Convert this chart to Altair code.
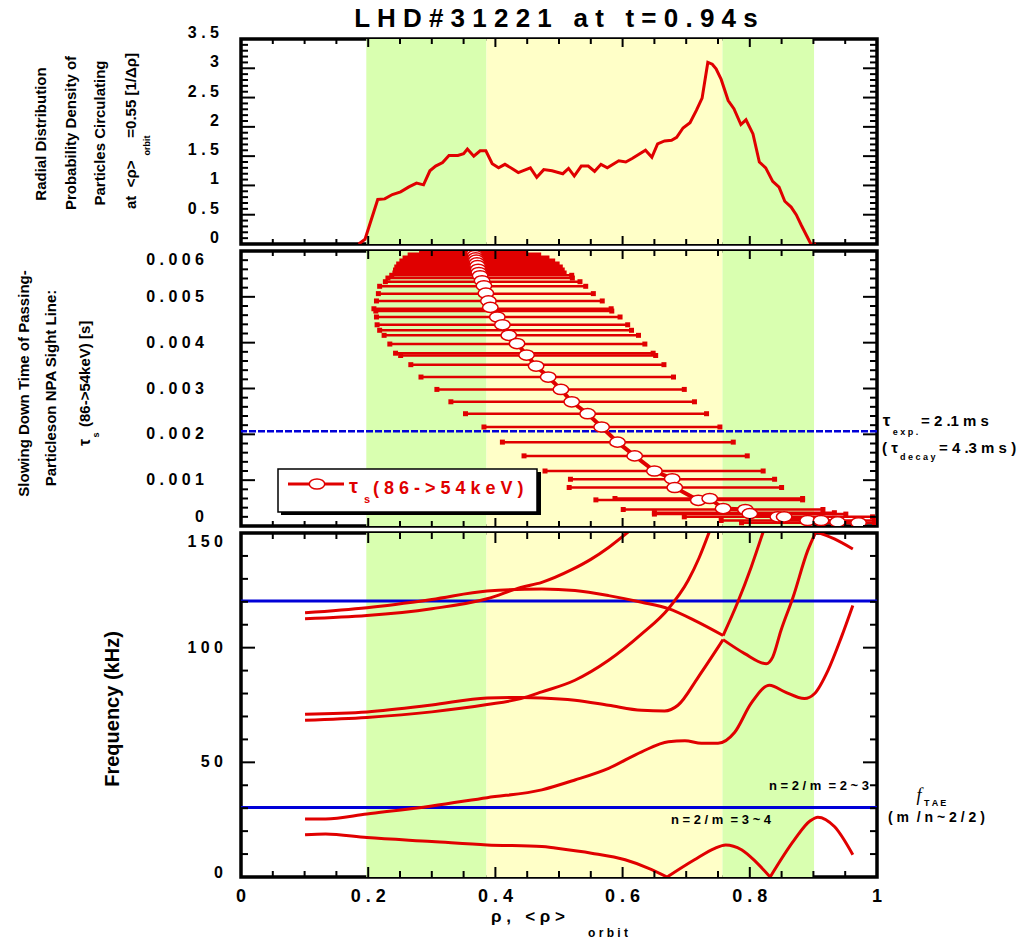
import altair as alt
import pandas as pd

FONT = "Liberation Sans"
RED = "#E00000"
BLUE = "#0000D8"
GREEN = "#D9FFB0"
YELLOW = "#FFFFC8"
NB = "\u00a0"

W = 636
H_TOP, H_MID, H_BOT = 205, 275, 344

# background bands (rho)
band_lo = [0.197, 0.386, 0.757]
band_hi = [0.386, 0.757, 0.901]
band_color = [GREEN, YELLOW, GREEN]

# ---- top panel: radial probability density ----
top_rho = [0.185, 0.195, 0.215, 0.226, 0.238, 0.251, 0.264, 0.276, 0.287, 0.297,
           0.306, 0.317, 0.327, 0.341, 0.350, 0.356, 0.366, 0.376, 0.385, 0.395,
           0.405, 0.415, 0.426, 0.436, 0.455, 0.465, 0.476, 0.489, 0.506, 0.515,
           0.524, 0.535, 0.546, 0.556, 0.566, 0.576, 0.594, 0.605, 0.615, 0.636,
           0.646, 0.655, 0.666, 0.677, 0.685, 0.695, 0.706, 0.716, 0.725, 0.734,
           0.741, 0.747, 0.755, 0.766, 0.775, 0.786, 0.794, 0.805, 0.815, 0.825,
           0.836, 0.846, 0.855, 0.865, 0.873, 0.881, 0.889, 0.896, 0.904]
top_val = [0, 0.08, 0.76, 0.77, 0.845, 0.89, 0.975, 1.04, 1.01, 1.25,
           1.33, 1.39, 1.51, 1.51, 1.54, 1.62, 1.50, 1.59, 1.59, 1.37,
           1.30, 1.36, 1.29, 1.22, 1.30, 1.14, 1.27, 1.25, 1.20, 1.29,
           1.16, 1.33, 1.33, 1.24, 1.36, 1.30, 1.42, 1.40, 1.46, 1.60,
           1.48, 1.71, 1.76, 1.77, 1.82, 1.98, 2.07, 2.28, 2.49, 3.10,
           3.07, 2.99, 2.81, 2.45, 2.31, 2.04, 2.12, 1.88, 1.40, 1.30,
           1.07, 0.97, 0.73, 0.63, 0.50, 0.32, 0.15, 0, 0]

# ---- middle panel: slowing down time ----
bar_tau = [0.005983, 0.005917, 0.005852, 0.005786, 0.005721, 0.005655, 0.005590, 0.005524,
           0.00547, 0.00541, 0.00533, 0.00523, 0.00507, 0.00491, 0.00474, 0.00469, 0.00456,
           0.00439, 0.00427, 0.00416, 0.00397, 0.00377, 0.00372, 0.00352, 0.00325, 0.00298,
           0.00271, 0.00245, 0.00216, 0.00183, 0.00153, 0.00120, 0.00102, 0.00084, 0.00060,
           0.00057, 0.00036, 0.00029, 0.00026, 0.00020, 0.00012, 0.00007]
bar_lo = [0.28, 0.262, 0.254, 0.249, 0.244, 0.241, 0.239, 0.238,
          0.237, 0.231, 0.227, 0.218, 0.216, 0.213, 0.209, 0.212, 0.213,
          0.214, 0.218, 0.225, 0.234, 0.243, 0.251, 0.267, 0.283, 0.308,
          0.330, 0.353, 0.382, 0.411, 0.445, 0.478, 0.518, 0.516, 0.588,
          0.558, 0.601, 0.650, 0.650, 0.697, 0.755, 0.787]
bar_hi = [0.45, 0.472, 0.485, 0.494, 0.501, 0.506, 0.509, 0.512,
          0.520, 0.521, 0.533, 0.542, 0.554, 0.568, 0.582, 0.583, 0.596,
          0.608, 0.614, 0.625, 0.635, 0.648, 0.652, 0.665, 0.680, 0.697,
          0.713, 0.732, 0.753, 0.774, 0.796, 0.821, 0.839, 0.850, 0.883,
          0.883, 0.915, 0.933, 0.951, 0.993, 0.996, 0.996]

circ_rho = [0.366, 0.367, 0.368, 0.369, 0.370, 0.371, 0.372, 0.373, 0.374, 0.376,
            0.379, 0.382, 0.385, 0.389, 0.392, 0.403, 0.411, 0.421, 0.434, 0.449,
            0.464, 0.483, 0.503, 0.520, 0.545, 0.567, 0.592, 0.619, 0.650, 0.678,
            0.682, 0.719, 0.737, 0.758, 0.793, 0.800, 0.844, 0.854, 0.891, 0.912,
            0.938, 0.971]
circ_tau = [0.00600, 0.00595, 0.00590, 0.00585, 0.00580, 0.00574, 0.00568, 0.00560, 0.00553, 0.00546,
            0.00535, 0.00524, 0.00508, 0.00491, 0.00477, 0.00456, 0.00439, 0.00416, 0.00398, 0.00373,
            0.00349, 0.00325, 0.00298, 0.00271, 0.00245, 0.00216, 0.00183, 0.00153, 0.00120, 0.00103,
            0.00084, 0.00056, 0.00060, 0.00038, 0.00036, 0.00027, 0.00020, 0.00020, 0.00012, 0.00012,
            0.00009, 0.00007]

tau_exp = 0.00207

# ---- bottom panel: frequency continua ----
curve_A_rho = [0.1007, 0.133, 0.198, 0.30, 0.387, 0.473, 0.494, 0.551, 0.604, 0.640, 0.670,
               0.713, 0.745, 0.762, 0.787, 0.810, 0.832, 0.87, 0.895, 0.907, 0.933, 0.962]
curve_A_f = [18.4, 18.8, 17.2, 15.5, 14.0, 13.3, 12.6, 10.4, 7.5, 3.9, 0.0,
             7.5, 12.5, 14.0, 11.9, 6.5, 0.0, 16.2, 24.5, 26.1, 22.0, 9.7]
curve_B_rho = [0.1007, 0.133, 0.198, 0.30, 0.387, 0.473, 0.525, 0.578, 0.63, 0.672, 0.698,
               0.724, 0.75, 0.776, 0.802, 0.831, 0.855, 0.886, 0.902, 0.923, 0.944, 0.962]
curve_B_f = [25.3, 25.3, 27.5, 31.0, 34.6, 38.0, 42.3, 47.4, 54.6, 59.0, 59.4,
             58.3, 58.3, 63.0, 75.7, 83.6, 80.7, 77.8, 80.0, 90.1, 104.6, 118.4]
curve_C_rho = [0.1007, 0.198, 0.30, 0.387, 0.44, 0.473, 0.525, 0.578, 0.63, 0.672, 0.703, 0.72, 0.737]
curve_C_f = [68.4, 69.6, 72.0, 75.2, 77.8, 80.7, 85.8, 94.5, 106.0, 117.0, 129.3, 139.0, 151.0]
curve_F_rho = [0.1007, 0.198, 0.30, 0.387, 0.44, 0.473, 0.525, 0.578, 0.63, 0.666, 0.687,
               0.719, 0.758, 0.792, 0.826, 0.836, 0.849, 0.868, 0.891, 0.904, 0.933, 0.962]
curve_F_f = [71.0, 72.0, 75.0, 78.1, 78.3, 78.1, 77.1, 74.9, 72.7, 72.4, 74.9,
             87.2, 103.5, 97.4, 93.0, 95.9, 107.5, 122.0, 142.3, 150.5, 147.4, 143.0]
curve_D_rho = [0.1007, 0.198, 0.30, 0.387, 0.473, 0.525, 0.578, 0.63, 0.672, 0.713, 0.758,
               0.781, 0.802, 0.821]
curve_D_f = [115.2, 117.4, 121.0, 124.7, 125.6, 124.9, 122.7, 119.8, 117.0, 111.9, 105.3,
             119.8, 135.0, 150.5]
curve_E_rho = [0.1007, 0.198, 0.30, 0.387, 0.44, 0.473, 0.52, 0.55, 0.578, 0.609]
curve_E_f = [112.6, 114.0, 117.0, 121.3, 126.3, 128.5, 134.0, 138.5, 143.7, 150.5]
cusps = {"A": [0.670, 0.832], "B": [], "C": [], "F": [0.758, 0.904], "D": [0.758], "E": []}

tae_levels = [120.3, 30.3]

# ---- ticks / labels ----
x_major = [0, 0.2, 0.4, 0.6, 0.8, 1]
x_labels = ["0", "0 . 2", "0 . 4", "0 . 6", "0 . 8", "1"]
x_minor = [0.05, 0.1, 0.15, 0.25, 0.3, 0.35, 0.45, 0.5, 0.55, 0.65, 0.7, 0.75, 0.85, 0.9, 0.95]
top_major = [0, 0.5, 1, 1.5, 2, 2.5, 3, 3.5]
top_labels = ["0", "0 . 5", "1", "1 . 5", "2", "2 . 5", "3", "3 . 5"]
top_minor = [round(i * 0.1, 1) for i in range(36) if i % 5]
mid_major = [0, 0.001, 0.002, 0.003, 0.004, 0.005, 0.006]
mid_labels = ["0", "0 . 0 0 1", "0 . 0 0 2", "0 . 0 0 3", "0 . 0 0 4", "0 . 0 0 5", "0 . 0 0 6"]
mid_minor = [round(i * 0.0002, 4) for i in range(31) if i % 5]
bot_major = [0, 50, 100, 150]
bot_labels = ["0", "5 0", "1 0 0", "1 5 0"]
bot_minor = [10, 20, 30, 40, 60, 70, 80, 90, 110, 120, 130, 140]

xs = alt.Scale(domain=[0, 1], nice=False, zero=False)
ys_top = alt.Scale(domain=[0, 3.5], nice=False, zero=False)
ys_mid = alt.Scale(domain=[0, 0.006], nice=False, zero=False)
ys_bot = alt.Scale(domain=[0, 150], nice=False, zero=False)

ELLIPSE = "M-1,0A1,0.66,0,1,1,1,0A1,0.66,0,1,1,-1,0Z"


def X(field):
    return alt.X(field, type="quantitative", scale=xs, axis=None)


def Y(field, scale):
    return alt.Y(field, type="quantitative", scale=scale, axis=None)


def band_layer():
    df = pd.DataFrame({"x": band_lo, "x2": band_hi, "c": band_color})
    return alt.Chart(df).mark_rect().encode(
        x=X("x"), x2=alt.X2("x2"), color=alt.Color("c:N", scale=None))


def tick_layers(ymaj, ymin, yscale, H, xl=(8, 5), yl=(14, 7)):
    layers = []
    for vals, L in ((x_major, xl[0]), (x_minor, xl[1])):
        base = alt.Chart(pd.DataFrame({"x": vals})).mark_rule(color="black", strokeWidth=2)
        layers.append(base.encode(x=X("x"), y=alt.value(H), y2=alt.value(H - L)))
        layers.append(base.encode(x=X("x"), y=alt.value(0), y2=alt.value(L)))
    for vals, L in ((ymaj, yl[0]), (ymin, yl[1])):
        base = alt.Chart(pd.DataFrame({"y": vals})).mark_rule(color="black", strokeWidth=2)
        layers.append(base.encode(y=Y("y", yscale), x=alt.value(0), x2=alt.value(L)))
        layers.append(base.encode(y=Y("y", yscale), x=alt.value(W), x2=alt.value(W - L)))
    return layers


def ylabel_layers(values, labels, yscale, right, dy=0, top_flush=False, bottom_dy=None,
                  bottom_flush=False, size=16):
    df = pd.DataFrame({"y": values, "t": labels})
    style = dict(align="right", fontSize=size, font=FONT, fontWeight="bold", color="black")
    lo, hi = min(values), max(values)
    enc = dict(y=Y("y", yscale), x=alt.value(-right), text="t:N")
    layers = [alt.Chart(df).transform_filter(f"datum.y > {lo} && datum.y < {hi}").mark_text(
        baseline="middle", dy=dy, **style).encode(**enc)]
    if top_flush:
        layers.append(alt.Chart(df).transform_filter(f"datum.y >= {hi}").mark_text(
            baseline="top", dy=1, **style).encode(**enc))
    else:
        layers.append(alt.Chart(df).transform_filter(f"datum.y >= {hi}").mark_text(
            baseline="middle", dy=dy, **style).encode(**enc))
    if bottom_flush:
        layers.append(alt.Chart(df).transform_filter(f"datum.y <= {lo}").mark_text(
            baseline="bottom", dy=-1, **style).encode(**enc))
    else:
        layers.append(alt.Chart(df).transform_filter(f"datum.y <= {lo}").mark_text(
            baseline="middle", dy=dy if bottom_dy is None else bottom_dy, **style).encode(**enc))
    return layers


def txt(text, x, y, size=13, angle=0, align="center", color="black", weight="bold",
        font=FONT, style="normal", baseline="middle"):
    return alt.Chart(pd.DataFrame({"t": [text]})).mark_text(
        align=align, baseline=baseline, angle=angle, fontSize=size, font=font,
        fontWeight=weight, fontStyle=style, color=color
    ).encode(text="t:N", x=alt.value(x), y=alt.value(y))


# ================= TOP PANEL =================
top_df = pd.DataFrame({"x": top_rho, "v": top_val})
top_line = alt.Chart(top_df).mark_line(color=RED, strokeWidth=3, clip=True).encode(
    x=X("x"), y=Y("v", ys_top))

title_text = f"L H D # 3 1 2 2 1 {NB}{NB}a t {NB}{NB}t = 0 . 9 4 s"
top_texts = [
    txt(title_text, 315, -20, size=26),
    txt("Radial Distribution", -200, 95, size=15, angle=270),
    txt("Probability Density of", -170, 94, size=15, angle=270),
    txt("Particles Circulating", -140.7, 94, size=15, angle=270),
    txt(f"at{NB}{NB}<ρ>", -110, 170, size=15, angle=270, align="left"),
    txt("=0.55 [1/Δρ]", -110, 14, size=15, angle=270, align="right"),
    txt("orbit", -94, 106.5, size=9, angle=270),
]

top = alt.layer(band_layer(), top_line, *top_texts,
                *ylabel_layers(top_major, top_labels, ys_top, 22, dy=-6),
                *tick_layers(top_major, top_minor, ys_top, H_TOP)).properties(
    width=W, height=H_TOP)

# ================= MIDDLE PANEL =================
bar_df = pd.DataFrame({"lo": bar_lo, "hi": bar_hi, "tau": bar_tau})
circ_df = pd.DataFrame({"x": circ_rho, "tau": circ_tau, "i": list(range(len(circ_rho)))})

dome = alt.Chart(bar_df).transform_filter("datum.tau > 0.0055").mark_rule(
    color=RED, strokeWidth=4.5, clip=True).encode(
    x=X("lo"), x2=alt.X2("hi"), y=Y("tau", ys_mid))
bars = alt.Chart(bar_df).transform_filter("datum.tau <= 0.0055").mark_rule(
    color=RED, strokeWidth=2.5, clip=True).encode(
    x=X("lo"), x2=alt.X2("hi"), y=Y("tau", ys_mid))
caps_lo = alt.Chart(bar_df).transform_filter("datum.tau <= 0.0055").mark_point(
    shape="square", filled=True, size=25, color=RED, opacity=1, clip=True).encode(
    x=X("lo"), y=Y("tau", ys_mid))
caps_hi = alt.Chart(bar_df).transform_filter("datum.tau <= 0.0055").mark_point(
    shape="square", filled=True, size=25, color=RED, opacity=1, clip=True).encode(
    x=X("hi"), y=Y("tau", ys_mid))
exp_line = alt.Chart(pd.DataFrame({"tau": [tau_exp]})).mark_rule(
    color=BLUE, strokeWidth=2.5, strokeDash=[7, 2]).encode(y=Y("tau", ys_mid))
conn = alt.Chart(circ_df).mark_line(color=RED, strokeWidth=4, clip=True).encode(
    x=X("x"), y=Y("tau", ys_mid), order="i:Q")
circs = alt.Chart(circ_df).mark_point(shape=ELLIPSE, size=240, filled=True, fill="white",
                                      stroke=RED, strokeWidth=1.5, opacity=1, clip=True).encode(
    x=X("x"), y=Y("tau", ys_mid))


def vrect(x1, x2, y1, y2, fill, stroke=None):
    kw = {"fill": fill}
    if stroke:
        kw.update(stroke=stroke, strokeWidth=1.5)
    return alt.Chart(pd.DataFrame({"a": [0]})).mark_rect(**kw).encode(
        x=alt.value(x1), x2=alt.value(x2), y=alt.value(y1), y2=alt.value(y2))


legend = [
    vrect(40, 300, 221, 264, "black"),
    vrect(37, 296, 218, 261, "white", "black"),
    alt.Chart(pd.DataFrame({"a": [0]})).mark_rule(color=RED, strokeWidth=3).encode(
        x=alt.value(47), x2=alt.value(103), y=alt.value(233)),
    alt.Chart(pd.DataFrame({"a": [0]})).mark_point(shape=ELLIPSE, size=240, filled=True,
                                                   fill="white", stroke=RED, strokeWidth=1.5,
                                                   opacity=1).encode(
        x=alt.value(76), y=alt.value(233)),
    txt("τ", 108, 236, size=20, align="left", color=RED),
    txt("s", 123, 249, size=11, align="left", color=RED),
    txt("( 8 6 - > 5 4 k e V )", 132, 238, size=18, align="left", color=RED),
]

mid_texts = [
    txt("Slowing Down Time of Passing-", -216.7, 132.5, size=15, angle=270),
    txt("Particleson NPA Sight Line:", -190, 137, size=15, angle=270),
    txt("τ", -156, 195, size=16, angle=270, align="left"),
    txt("(86->54keV) [s]", -156, 176, size=15, angle=270, align="left"),
    txt("s", -145, 184, size=9, angle=270),
    txt("τ", 641.7, 170, size=17, align="left"),
    txt("e x p .", 651.7, 181, size=9, align="left"),
    txt("= 2 .1 m s", 680, 170, size=15, align="left"),
    txt("( τ", 641, 197, size=15, align="left"),
    txt("d e c a y", 659, 206, size=9, align="left"),
    txt("= 4 .3 m s )", 698, 197, size=15, align="left"),
]

mid = alt.layer(band_layer(), dome, bars, caps_lo, caps_hi, exp_line, conn, circs, *legend,
                *mid_texts,
                *ylabel_layers(mid_major, mid_labels, ys_mid, 37, top_flush=True, bottom_flush=True),
                *tick_layers(mid_major, mid_minor, ys_mid, H_MID)).properties(
    width=W, height=H_MID)

# ================= BOTTOM PANEL =================
curve_data = {"A": (curve_A_rho, curve_A_f), "B": (curve_B_rho, curve_B_f),
              "C": (curve_C_rho, curve_C_f), "F": (curve_F_rho, curve_F_f),
              "D": (curve_D_rho, curve_D_f), "E": (curve_E_rho, curve_E_f)}
rows = []
for name, (rr, ff) in curve_data.items():
    seg = 0
    for r, f in zip(rr, ff):
        rows.append({"x": r, "f": f, "seg": f"{name}{seg}"})
        if r in cusps[name]:
            seg += 1
            rows.append({"x": r, "f": f, "seg": f"{name}{seg}"})
curve_df = pd.DataFrame(rows)

tae = alt.Chart(pd.DataFrame({"f": tae_levels})).mark_rule(color=BLUE, strokeWidth=3).encode(
    y=Y("f", ys_bot))
curves = alt.Chart(curve_df).mark_line(color=RED, strokeWidth=3, interpolate="monotone",
                                       clip=True).encode(
    x=X("x"), y=Y("f", ys_bot), detail="seg:N")

x_label_layer = alt.Chart(pd.DataFrame({"x": x_major, "t": x_labels})).mark_text(
    align="center", baseline="middle", fontSize=18, font=FONT, fontWeight="bold",
    color="black").encode(x=X("x"), y=alt.value(H_BOT + 20), text="t:N")

bot_texts = [
    txt("Frequency (kHz)", -128, 176, size=20, angle=270),
    txt(f"n = 2 / m {NB}= 2 ~ 3", 628, 253, size=13, align="right"),
    txt(f"n = 2 / m {NB}= 3 ~ 4", 430, 287, size=13, align="left"),
    txt("f", 678, 263, size=18, font="Liberation Serif", style="italic", weight="normal"),
    txt("T A E", 683, 270, size=9, align="left"),
    txt(f"( m {NB}/ n ~ 2 / 2 )", 647, 285, size=14, align="left"),
    txt(f"ρ , {NB}{NB}< ρ >", 250, 384, size=17, align="left"),
    txt("o r b i t", 347, 400, size=12, align="left"),
]

bot = alt.layer(band_layer(), tae, curves, *bot_texts, x_label_layer,
                *ylabel_layers(bot_major, bot_labels, ys_bot, 18, top_flush=True, bottom_dy=-4),
                *tick_layers(bot_major, bot_minor, ys_bot, H_BOT, xl=(10, 6))).properties(
    width=W, height=H_BOT)

chart = alt.vconcat(top, mid, bot, spacing=7, bounds="flush").properties(
    padding={"left": 15, "top": 4, "right": 2, "bottom": 0}
).configure_view(stroke="black", strokeWidth=3.5)

chart.save("out.html", embed_options={"renderer": "svg", "actions": False})
